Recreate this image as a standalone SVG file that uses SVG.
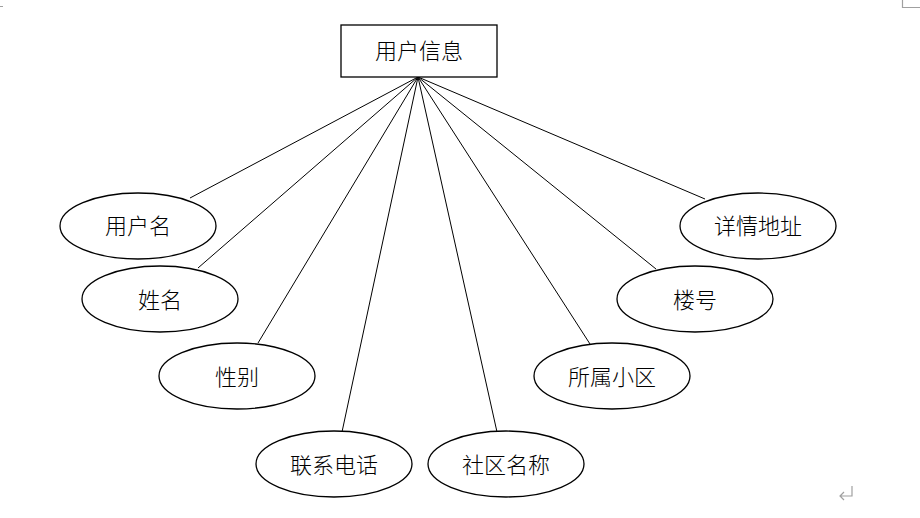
<svg xmlns="http://www.w3.org/2000/svg" width="920" height="518" viewBox="0 0 920 518">
<style>
.n{fill:#fff;stroke:#000;stroke-width:1.3}
.t{font-family:"Noto Sans CJK SC","Liberation Serif",serif;font-size:22px;font-weight:300;fill:#000;text-anchor:middle;dominant-baseline:central}
.c line{stroke:#000;stroke-width:1}
.m{stroke:#a0a0a0;stroke-width:1.2;fill:none}
</style>
<rect width="920" height="518" fill="#fff"/>
<path class="m" d="M0 6.5H3M902.5 0V7.5H920"/>
<g class="c" id="connectors">
<line x1="418" y1="77" x2="190" y2="198"/>
<line x1="418" y1="77" x2="198" y2="268"/>
<line x1="418" y1="77" x2="258" y2="343"/>
<line x1="418" y1="77" x2="342" y2="432"/>
<line x1="418" y1="77" x2="497" y2="432"/>
<line x1="418" y1="77" x2="590" y2="344"/>
<line x1="418" y1="77" x2="656" y2="269"/>
<line x1="418" y1="77" x2="705" y2="199"/>
</g>
<g id="yonghuxinxi"><rect class="n" x="341" y="25" width="156" height="52"/><text class="t" x="419" y="49">用户信息</text></g>
<g id="yonghuming"><ellipse class="n" cx="138" cy="226" rx="78" ry="33"/><text class="t" x="138" y="224">用户名</text></g>
<g id="xingming"><ellipse class="n" cx="160" cy="299" rx="78" ry="33"/><text class="t" x="160" y="298">姓名</text></g>
<g id="xingbie"><ellipse class="n" cx="237" cy="376" rx="78" ry="33"/><text class="t" x="237" y="375">性别</text></g>
<g id="lianxidianhua"><ellipse class="n" cx="334" cy="464" rx="78" ry="33"/><text class="t" x="334" y="463">联系电话</text></g>
<g id="shequmingcheng"><ellipse class="n" cx="506" cy="464" rx="78" ry="33"/><text class="t" x="506" y="463">社区名称</text></g>
<g id="suoshuxiaoqu"><ellipse class="n" cx="612" cy="376" rx="78" ry="33"/><text class="t" x="612" y="375">所属小区</text></g>
<g id="louhao"><ellipse class="n" cx="695" cy="299" rx="78" ry="33"/><text class="t" x="695" y="298">楼号</text></g>
<g id="xiangqingdizhi"><ellipse class="n" cx="758" cy="226" rx="78" ry="33"/><text class="t" x="758" y="224">详情地址</text></g>
<path class="m" d="M852 486V496H840M844 492L840 496L844 500"/>
</svg>
